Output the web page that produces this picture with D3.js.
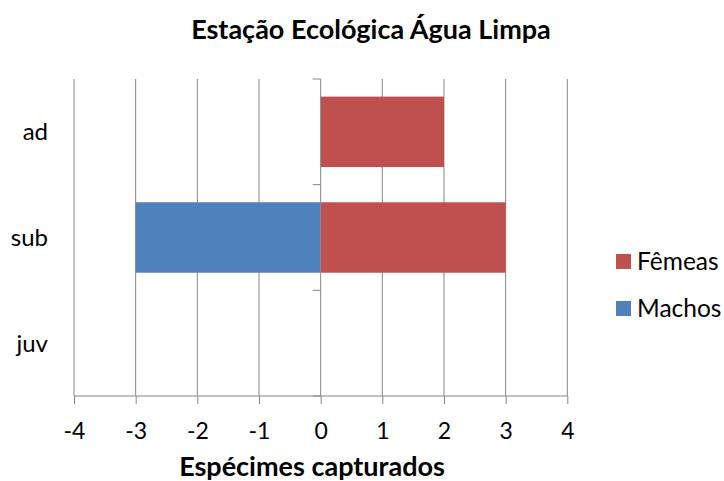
<!DOCTYPE html>
<html>
<head>
<meta charset="utf-8">
<script src="https://cdn.jsdelivr.net/npm/d3@7"></script>
<style>
  html, body { margin: 0; padding: 0; background: #fff; }
  svg { display: block; }
  text { font-family: Lato, "Open Sans", sans-serif; fill: #000; }
</style>
</head>
<body>
<svg id="chart" width="724" height="481"></svg>
<script>
const categories = ["ad", "sub", "juv"];
const femeas = [2, 3, 0];
const machos = [0, -3, 0];
const xTicks = [-4, -3, -2, -1, 0, 1, 2, 3, 4];
const seriesNames = ["Fêmeas", "Machos"];
const seriesColors = ["#C0504D", "#4F81BD"];
const title = "Estação Ecológica Água Limpa";
const xTitle = "Espécimes capturados";

(function () {
const svg = d3.select("#chart");
const pLeft = 74, pRight = 567.3, pTop = 79, pBottom = 396;

const x = d3.scaleLinear().domain([-4, 4]).range([pLeft, pRight]);
const y = d3.scaleBand().domain(categories).range([pTop, pBottom])
  .paddingInner(1/3).paddingOuter(1/6);
const color = d3.scaleOrdinal().domain(seriesNames).range(seriesColors);

// gridlines
svg.append("g").selectAll("line").data(xTicks.filter(d => d !== 0)).join("line")
  .attr("x1", d => x(d)).attr("x2", d => x(d))
  .attr("y1", pTop).attr("y2", pBottom)
  .attr("stroke", "#868686").attr("stroke-width", 1);

// bars
const rows = categories.map((c, i) => ({ c, f: femeas[i], m: machos[i] }));
svg.append("g").selectAll("rect").data(rows.filter(d => d.f !== 0)).join("rect")
  .attr("x", d => x(Math.min(0, d.f))).attr("width", d => Math.abs(x(d.f) - x(0)))
  .attr("y", d => y(d.c)).attr("height", y.bandwidth())
  .attr("fill", color("Fêmeas"));
svg.append("g").selectAll("rect").data(rows.filter(d => d.m !== 0)).join("rect")
  .attr("x", d => x(Math.min(0, d.m))).attr("width", d => Math.abs(x(d.m) - x(0)))
  .attr("y", d => y(d.c)).attr("height", y.bandwidth())
  .attr("fill", color("Machos"));

// x axis
const xAxis = d3.axisBottom(x).tickValues(xTicks).tickSize(8).tickPadding(19);
const gx = svg.append("g").attr("transform", `translate(0,${pBottom})`).call(xAxis);
gx.select(".domain").attr("stroke", "#868686").attr("d", `M${pLeft},0H${pRight}`);
gx.selectAll(".tick line").attr("stroke", "#868686");
gx.selectAll(".tick text").attr("font-size", 23).attr("font-family", "Lato, sans-serif").attr("fill", "#000")
  .text(d => d < 0 ? "-" + Math.abs(d) : d);

// vertical axis at zero with category tick marks
const zeroX = x(0);
const bounds = [pTop].concat(categories.map(c => y(c) + y.bandwidth() + y.step() * y.paddingInner() / 2));
svg.append("line").attr("x1", zeroX).attr("x2", zeroX).attr("y1", pTop).attr("y2", pBottom)
  .attr("stroke", "#868686").attr("stroke-width", 1);
svg.append("g").selectAll("line").data(bounds).join("line")
  .attr("x1", zeroX - 8).attr("x2", zeroX).attr("y1", d => d).attr("y2", d => d)
  .attr("stroke", "#868686");

// category labels
svg.append("g").selectAll("text").data(categories).join("text")
  .attr("x", 48).attr("y", d => y(d) + y.bandwidth() / 2)
  .attr("dy", "0.35em").attr("text-anchor", "end").attr("font-size", 24)
  .text(d => d);

// titles
svg.append("text").attr("x", 371).attr("y", 39).attr("text-anchor", "middle")
  .attr("font-size", 27).attr("font-weight", "bold").text(title);
svg.append("text").attr("x", 312).attr("y", 476).attr("text-anchor", "middle")
  .attr("font-size", 27).attr("font-weight", "bold").text(xTitle);

// legend
const lg = svg.append("g").selectAll("g").data(seriesNames).join("g")
  .attr("transform", (d, i) => `translate(616,${254 + i * 47})`);
lg.append("rect").attr("width", 15).attr("height", 15).attr("fill", d => color(d));
lg.append("text").attr("x", 21).attr("y", 15.5).attr("font-size", 24.5).text(d => d);
})();
</script>
</body>
</html>
